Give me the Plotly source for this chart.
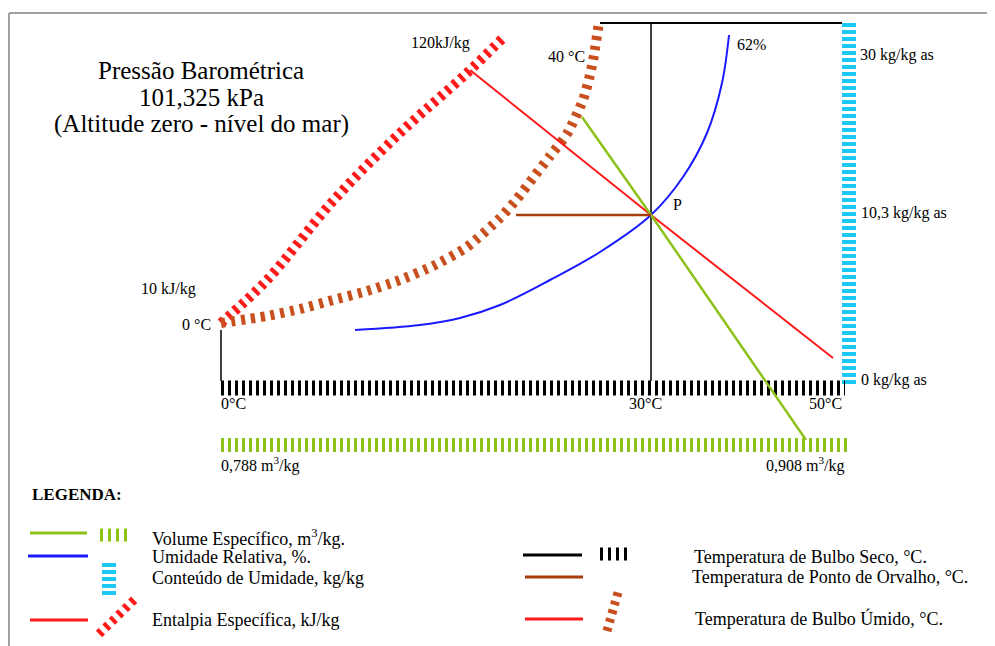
import plotly.graph_objects as go

# ---- schematic diagram data (diagram units: 995 x 646 canvas) ----
title_lines = ["Pressão Barométrica", "101,325 kPa", "(Altitude zero - nível do mar)"]

# enthalpy (kJ/kg) scale, hatched red
enth_scale_x = [221, 267, 333, 400, 467, 503]
enth_scale_y = [323, 280, 201, 133, 73, 38]
# wet bulb / saturation scale, hatched brown
wb_scale_x = [221, 267, 300, 333, 367, 400, 433, 467, 500, 517, 533, 550, 567, 583, 590, 594, 599]
wb_scale_y = [323, 316, 309, 300, 291, 280, 266, 247, 218, 199, 178, 156, 134, 100, 75, 55, 22]
# relative humidity curve 62 %
rh_x = [355, 420, 460, 500, 550, 600, 651, 683, 707, 722, 729]
rh_y = [330, 325, 318, 305, 280, 252, 215, 177, 133, 83, 35]
# state point P
p_x, p_y = 651, 215
# specific volume line
vol_x = [582, 651, 806]
vol_y = [117, 215, 440]
# enthalpy line
enth_x = [470, 651, 833]
enth_y = [70, 215, 358]
# dew point line
dew_x = [516, 651]
dew_y = [215, 215]
# dry bulb scale & guide lines
db_scale_x = [221, 845]
db_scale_y = [388, 388]
db_top_x = [600, 842]
db_top_y = [23, 23]
db_p_x = [651, 651]
db_p_y = [23, 381]
db_zero_x = [221, 221]
db_zero_y = [330, 381]
# moisture content scale
mc_scale_x = [849, 849]
mc_scale_y = [23, 386]
# specific volume scale
sv_scale_x = [221, 850]
sv_scale_y = [445, 445]

labels = [
    ("120kJ/kg", 440, 43, "center"), ("10 kJ/kg", 168, 289, "center"),
    ("0 °C", 196, 324, "center"), ("40 °C", 566, 56, "center"),
    ("62%", 751, 44, "center"), ("P", 677, 204, "center"),
    ("30 kg/kg as", 858, 55, "left"), ("10,3 kg/kg as", 859, 213, "left"),
    ("0 kg/kg as", 859, 380, "left"),
    ("0°C", 219, 403, "left"), ("30°C", 645, 403, "center"), ("50°C", 825, 403, "center"),
    ("0,788 m<sup>3</sup>/kg", 219, 464, "left"), ("0,908 m<sup>3</sup>/kg", 805, 464, "center"),
]

legend_text = [
    ("Volume Específico, m<sup>3</sup>/kg.", 150, 537),
    ("Umidade Relativa, %.", 150, 557),
    ("Conteúdo de Umidade, kg/kg", 150, 578),
    ("Entalpia Específica, kJ/kg", 150, 620),
    ("Temperatura de Bulbo Seco, °C.", 692, 557),
    ("Temperatura de Ponto de Orvalho, °C.", 690, 577),
    ("Temperatura de Bulbo Úmido, °C.", 693, 618),
]

GREEN = "#8cc21a"
BLUE = "#1a1aff"
CYAN = "#1ec8f5"
RED = "#ff1a1a"
BROWN = "#a83c0a"
HATCH_BROWN = "#c8501e"
BLACK = "#000000"
FONT = "Liberation Serif"

fig = go.Figure()


def line(x, y, color, width=2, dash="solid", shape="linear", smoothing=1.0):
    ln = dict(color=color, width=width, dash=dash, shape=shape)
    if shape == "spline":
        ln["smoothing"] = smoothing
    fig.add_trace(go.Scatter(x=x, y=y, mode="lines", hoverinfo="skip", line=ln))

# frame
line([9, 1003], [13, 13], "#a0a0a0", 2)
line([9, 9], [13, 660], "#a0a0a0", 2)

# hatched scales
line(enth_scale_x, enth_scale_y, RED, 10, "4px,5px", "spline")
line(wb_scale_x, wb_scale_y, HATCH_BROWN, 10, "4px,6px", "spline", 0.6)
line(mc_scale_x, mc_scale_y, CYAN, 14, "4px,3px")
line(db_scale_x, db_scale_y, BLACK, 15, "3px,4px")
line(sv_scale_x, sv_scale_y, GREEN, 14, "3px,4px")

# guide lines
line(db_top_x, db_top_y, BLACK, 2)
line(db_p_x, db_p_y, BLACK, 1.5)
line(db_zero_x, db_zero_y, BLACK, 1.5)

# process lines
line(rh_x, rh_y, BLUE, 2, shape="spline")
line(enth_x, enth_y, RED, 2)
line(vol_x, vol_y, GREEN, 2.5)
line(dew_x, dew_y, BROWN, 2.5)

# legend symbols
line([30, 87], [533, 533], GREEN, 3)
line([100, 128], [535, 535], GREEN, 13, "3px,5px")
line([28, 88], [556, 556], BLUE, 3)
line([109, 109], [563, 597], CYAN, 14, "4px,3px")
line([30, 88], [620, 620], RED, 3)
line([99, 136], [634, 598], RED, 9, "4px,5px")
line([523, 582], [555, 555], BLACK, 3)
line([600, 628], [554, 554], BLACK, 13, "3px,5px")
line([525, 583], [577, 577], BROWN, 3)
line([525, 583], [619, 619], RED, 3)
line([607, 619], [631, 589], HATCH_BROWN, 9, "4px,5px")

ann = []
for i, t in enumerate(title_lines):
    ann.append(dict(x=201, y=70 + i * 27, text=t, showarrow=False, xanchor="center", yanchor="middle",
                    font=dict(family=FONT, size=25, color="black")))
for t, x, y, a in labels:
    ann.append(dict(x=x, y=y, text=t, showarrow=False, xanchor=a, yanchor="middle",
                    font=dict(family=FONT, size=16, color="black")))
ann.append(dict(x=30, y=494, text="<b>LEGENDA:</b>", showarrow=False, xanchor="left", yanchor="middle",
                font=dict(family=FONT, size=17, color="black")))
for t, x, y in legend_text:
    ann.append(dict(x=x, y=y, text=t, showarrow=False, xanchor="left", yanchor="middle",
                    font=dict(family=FONT, size=18, color="black")))

# the page body adds an 8 px offset, so the visible window starts at 8
fig.update_layout(
    width=995, height=646, autosize=False,
    margin=dict(l=0, r=0, t=0, b=0),
    paper_bgcolor="white", plot_bgcolor="white",
    showlegend=False,
    xaxis=dict(range=[8, 1003], visible=False, fixedrange=True),
    yaxis=dict(range=[654, 8], visible=False, fixedrange=True),
    annotations=ann,
)
fig.write_html("out.html")
